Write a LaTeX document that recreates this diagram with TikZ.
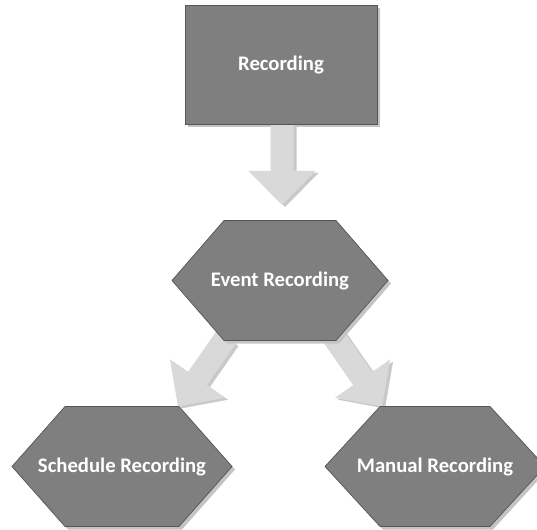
\documentclass[tikz,border=0pt]{standalone}
\usepackage{fontspec}
\setmainfont{Carlito}
\usetikzlibrary{calc}
\pgfdeclarelayer{bg}
\pgfsetlayers{bg,main}
\definecolor{shapefill}{HTML}{7F7F7F}
\definecolor{shapeline}{HTML}{555555}
\definecolor{shadowc}{HTML}{C4C4C4}
\definecolor{arrowfill}{HTML}{D9D9D9}
\definecolor{arrowshadow}{HTML}{C9C9C9}
\tikzset{
  shapebox/.style={fill=shapefill, draw=shapeline, line width=0.7pt},
  shadowbox/.style={fill=shadowc},
  lbl/.style={text=white, font=\fontsize{20.7}{24}\selectfont\bfseries, inner sep=0pt},
}
% #1 prefix, #2 start coordinate, #3 tip coordinate, #4 colour
\newcommand\blockarrow[4]{%
  \coordinate (#1c) at ($(#3)!34pt!(#2)$);
  \fill[#4] ($(#2)!11.5pt!90:(#3)$) -- ($(#1c)!11.5pt!-90:(#2)$) -- ($(#1c)!33.5pt!-90:(#2)$)
     -- (#3) -- ($(#1c)!33.5pt!90:(#2)$) -- ($(#1c)!11.5pt!90:(#2)$) -- ($(#2)!11.5pt!-90:(#3)$) -- cycle;
}
% #1 name, #2 centre, #3 half width, #4 half top width, #5 text
\newcommand\hexbox[5]{%
  \begin{scope}[shift={#2}]
    \fill[shadowbox] (-#3+3,-3) -- (-#4+3,57) -- (#4+3,57) -- (#3+3,-3) -- (#4+3,-63) -- (-#4+3,-63) -- cycle;
    \draw[shapebox] (-#3,0) -- (-#4,60) -- (#4,60) -- (#3,0) -- (#4,-60) -- (-#4,-60) -- cycle;
    \node[lbl] (#1) at (0,0) {#5};
    \coordinate (#1-tl) at (-#4,60);
    \coordinate (#1-tr) at (#4,60);
    \coordinate (#1-bl) at (-#4+2,-57);
    \coordinate (#1-br) at (#4-2,-57);
  \end{scope}
}
\begin{document}
\begin{tikzpicture}[x=1pt,y=1pt]
\useasboundingbox (0,0) rectangle (537,-529);
\node[shapebox, lbl, minimum width=192pt, minimum height=119pt] (rec) at (281,-64.5) {Recording};
\begin{pgfonlayer}{bg}
  \fill[shadowbox] ([shift={(3,-3)}]rec.south west) rectangle ([shift={(3,-3)}]rec.north east);
\end{pgfonlayer}
\hexbox{evt}{(280,-280.5)}{108}{56}{Event Recording}
\hexbox{sch}{(122,-466.5)}{110}{57}{Schedule Recording}
\hexbox{man}{(435,-466.5)}{110}{55}{Manual Recording}
\coordinate (a1s) at ([xshift=1pt]rec.south);
\coordinate (a1t) at (282,-205);
\coordinate (a2s) at (evt-bl);
\coordinate (a2t) at ([shift={(-1,0)}]sch-tr);
\coordinate (a3s) at (evt-br);
\coordinate (a3t) at ([shift={(2,0)}]man-tl);
\begin{pgfonlayer}{bg}
  \foreach \n in {1,2,3}{
    \coordinate (b\n s) at ($(a\n s)+(3,-2)$);
    \coordinate (b\n t) at ($(a\n t)+(3,-2)$);
    \blockarrow{sh\n}{b\n s}{b\n t}{arrowshadow}
    \blockarrow{ar\n}{a\n s}{a\n t}{arrowfill}
  }
\end{pgfonlayer}
\end{tikzpicture}
\end{document}
